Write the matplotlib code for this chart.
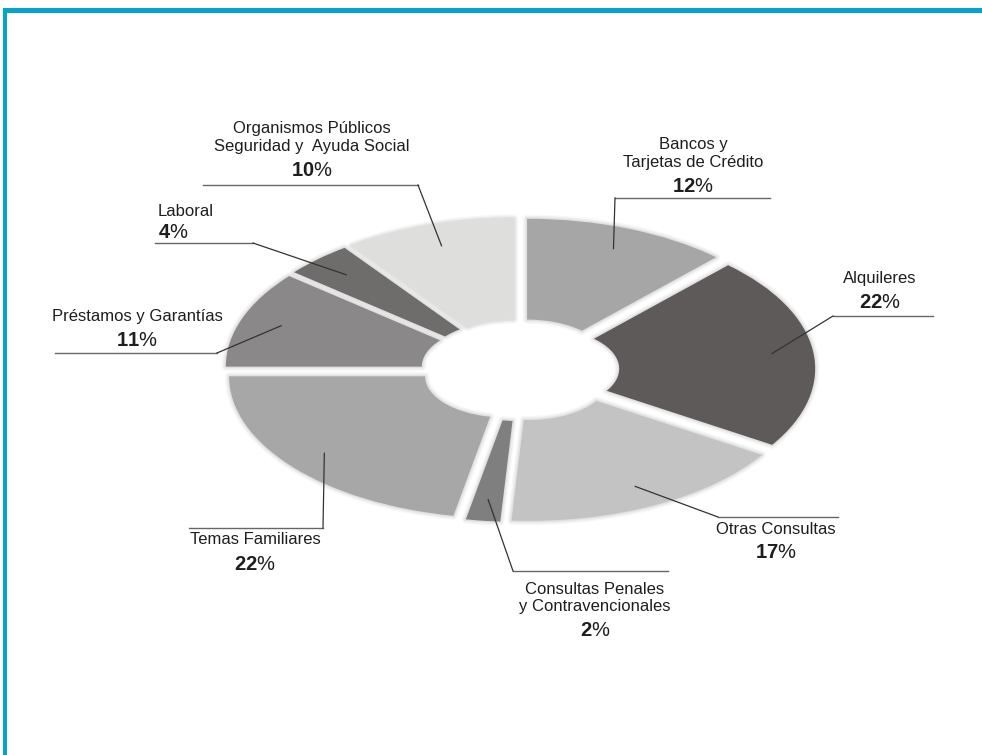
import numpy as np
import matplotlib
matplotlib.use("Agg")
import matplotlib.pyplot as plt
from matplotlib.patches import Rectangle

plt.rcParams["font.family"] = ["Liberation Sans", "DejaVu Sans"]
plt.rcParams["mathtext.fontset"] = "custom"
plt.rcParams["mathtext.rm"] = "Liberation Sans"
plt.rcParams["mathtext.bf"] = "Liberation Sans:bold"

# data, clockwise from 12 o'clock
categories = ["Bancos y\nTarjetas de Crédito", "Alquileres", "Otras Consultas",
              "Consultas Penales\ny Contravencionales", "Temas Familiares",
              "Préstamos y Garantías", "Laboral",
              "Organismos Públicos\nSeguridad y  Ayuda Social"]
values = [12, 22, 17, 2, 22, 11, 4, 10]
colors = ["#a6a6a6", "#5e5a59", "#c3c3c3", "#7f7f7f", "#a7a7a7",
          "#8a8888", "#6f6d6c", "#dededd"]

# label layout in pixels (from top): center x, name y, pct y, line x0, x1, line y, elbow x, align
label_layout = [
    (693, 153, 187, 615, 770, 198, 615, "center"),
    (880, 278, 302, 833, 933, 316, 833, "center"),
    (776, 530, 553, 718, 838, 517, 718, "center"),
    (595, 598, 630, 513, 668, 571, 513, "center"),
    (255, 540, 565, 189, 323, 528, 323, "center"),
    (137, 317, 341, 55, 217, 353, 217, "center"),
    (158, 211, 233, 155, 253, 243, 253, "left"),
    (312, 137, 170, 203, 418, 185, 418, "center"),
]

W, H = 982, 755
fig = plt.figure(figsize=(W / 100, H / 100), dpi=100)
fig.patch.set_facecolor("white")

# pie axes, squashed to look tilted
rx, ry = 276, 142
cx, cy = 520, 370
lim = 1.3
pie_ax = fig.add_axes([(cx - lim * rx) / W, (H - cy - lim * ry) / H,
                       2 * lim * rx / W, 2 * lim * ry / H])
explode = [0.07] * len(values)
ring = 0.71

# soft shadow around wedges
for lw, a in [(6, 0.03), (4, 0.04), (2, 0.05)]:
    pie_ax.pie(values, startangle=90, counterclock=False, explode=explode,
               colors=["none"] * len(values),
               wedgeprops=dict(width=ring, edgecolor=(0, 0, 0, a), linewidth=lw,
                               joinstyle="round"))
wedges, _ = pie_ax.pie(values, startangle=90, counterclock=False, explode=explode,
                       colors=colors, wedgeprops=dict(width=ring, linewidth=0))
pie_ax.set_aspect("auto")
pie_ax.set_xlim(-lim, lim)
pie_ax.set_ylim(-lim, lim)
pie_ax.axis("off")

# overlay axes in pixel coordinates for labels and frame
ax = fig.add_axes([0, 0, 1, 1])
ax.set_xlim(0, W)
ax.set_ylim(H, 0)
ax.axis("off")

ax.add_patch(Rectangle((3, 8), W - 3, 5, color="#06a4cc", lw=0))
ax.add_patch(Rectangle((3, 8), 4, H - 8, color="#06a4cc", lw=0))

fig.canvas.draw()
for w, name, v, lay in zip(wedges, categories, values, label_layout):
    tx, ny, py, x0, x1, ly, ex, ha = lay
    mid = np.deg2rad((w.theta1 + w.theta2) / 2)
    r = 0.85
    ox, oy = w.center
    disp = pie_ax.transData.transform((ox + r * np.cos(mid), oy + r * np.sin(mid)))
    axp = ax.transData.inverted().transform(disp)
    ax.plot([x0, x1], [ly, ly], color="#666666", lw=1)
    ax.plot([ex, axp[0]], [ly, axp[1]], color="#333333", lw=0.9)
    ax.text(tx, ny, name, ha=ha, va="center", fontsize=12, color="#1e1e1e",
            linespacing=1.25)
    ax.text(tx, py, r"$\mathbf{%d}$%%" % v, ha=ha, va="center", fontsize=14.5,
            color="#1e1e1e")

fig.savefig("out.png", dpi=100, facecolor="white")
